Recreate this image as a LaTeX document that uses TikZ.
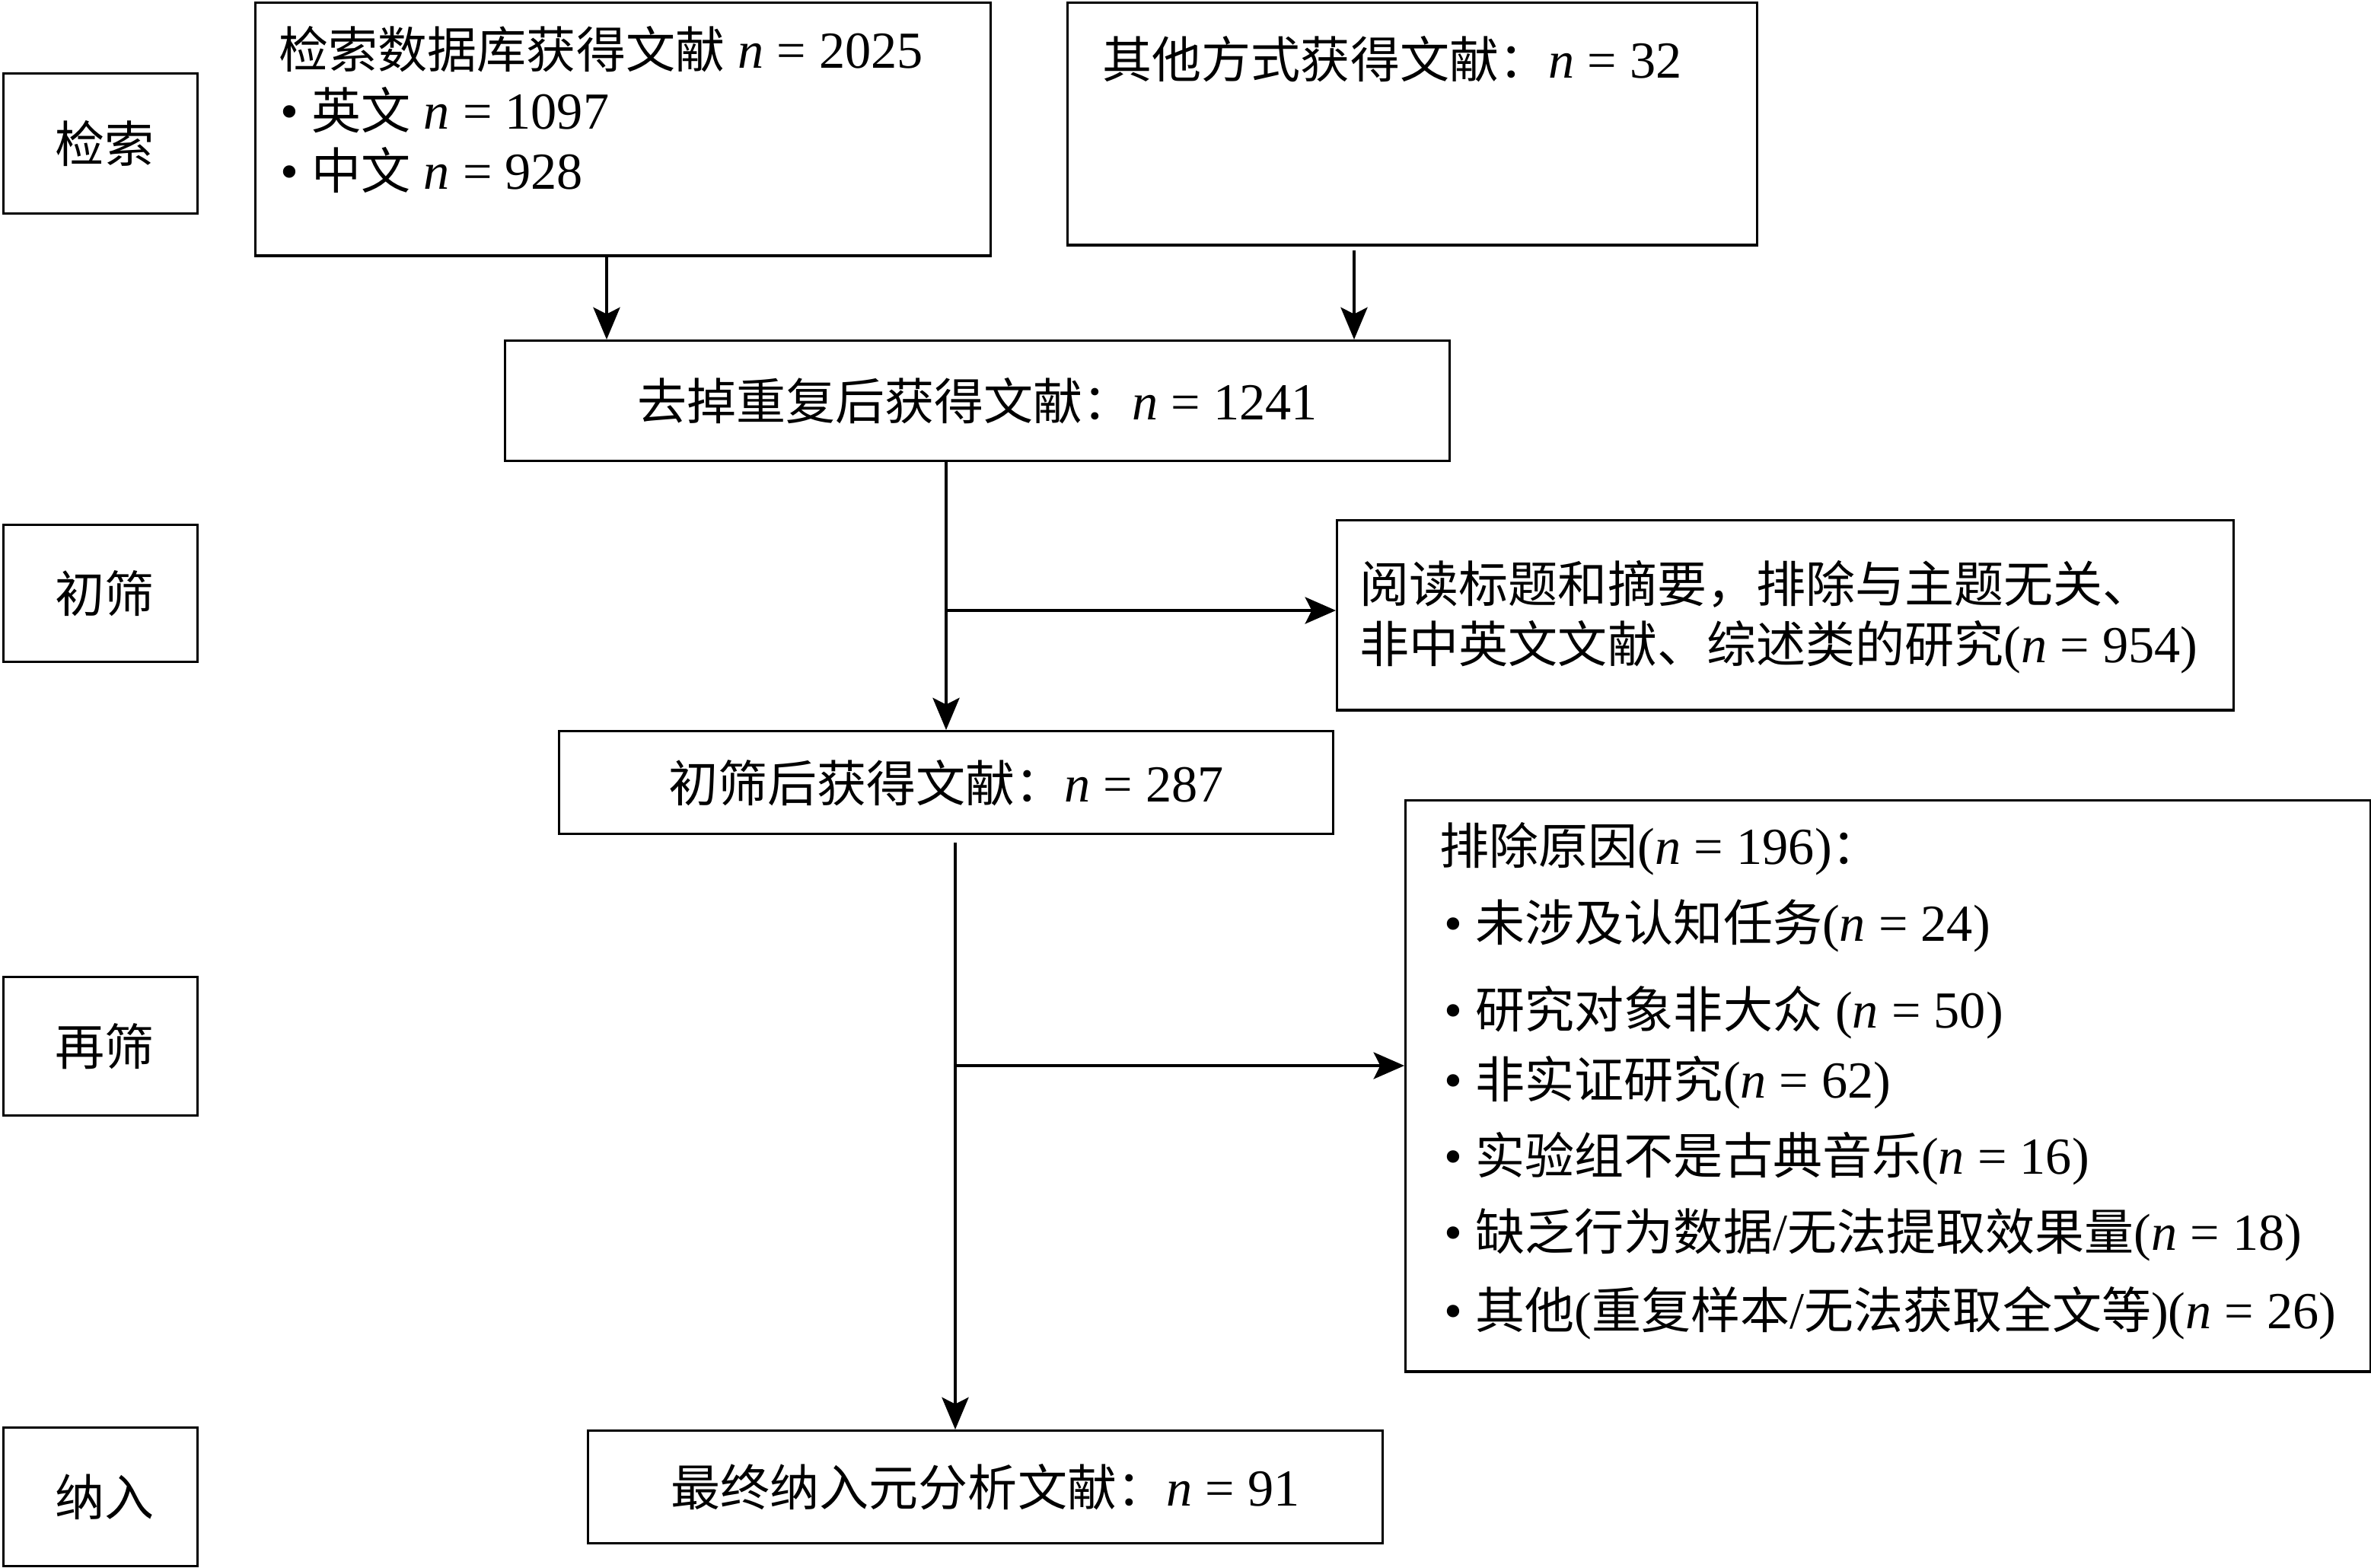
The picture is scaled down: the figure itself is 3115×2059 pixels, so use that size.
\documentclass[tikz,border=0pt]{standalone}
\usepackage{fontspec}
\setmainfont{Liberation Serif}[Scale=1.05]
\newfontfamily\cjk{Noto Sans CJK SC}
\newcommand{\zh}[1]{{\cjk #1}}
\newcommand{\nv}{\textit{n}}
\usetikzlibrary{arrows.meta}
\begin{document}
\begin{tikzpicture}[x=0.01cm,y=-0.01cm,
  every node/.append style={font=\fontsize{18.5}{22.6}\selectfont},
  box/.style={draw, line width=0.95pt, inner sep=0pt, anchor=north west},
  lab/.style={anchor=center, inner sep=0pt},
  txt/.style={anchor=base west, inner sep=0pt},
  varr/.style={line width=1.1pt, -{Stealth[length=12pt,width=10pt,inset=2.5pt]}},
  harr/.style={line width=1pt, -{Stealth[length=11.5pt,width=10pt,inset=2.5pt]}}]
\useasboundingbox (0,0) rectangle (3115,2059);
% stage labels
\node[box, minimum width=2.55cm, minimum height=1.84cm] (L1) at (3,95) {};
\node[box, minimum width=2.55cm, minimum height=1.80cm] (L2) at (3,688) {};
\node[box, minimum width=2.55cm, minimum height=1.82cm] (L3) at (3,1282) {};
\node[box, minimum width=2.55cm, minimum height=1.82cm] (L4) at (3,1874) {};
\node[lab] (l1) at ([xshift=0.05cm]L1.center) {\zh{检索}};
\node[lab] (l2) at ([xshift=0.05cm]L2.center) {\zh{初筛}};
\node[lab] (l3) at ([xshift=0.05cm]L3.center) {\zh{再筛}};
\node[lab] (l4) at ([xshift=0.05cm]L4.center) {\zh{纳入}};
% main boxes
\node[box, minimum width=9.65cm, minimum height=3.32cm] (A) at (334,2) {};
\node[box, minimum width=9.05cm, minimum height=3.18cm] (B) at (1401,2) {};
\node[box, minimum width=12.40cm, minimum height=1.58cm] (C) at (662,446) {\zh{去掉重复后获得文献：}\nv{} = 1241};
\node[box, minimum width=11.77cm, minimum height=2.49cm] (D) at (1755,682) {};
\node[box, minimum width=10.16cm, minimum height=1.35cm] (E) at (733,959) {\zh{初筛后获得文献：}\nv{} = 287};
\node[box, minimum width=12.67cm, minimum height=7.50cm] (F) at (1845,1050) {};
\node[box, minimum width=10.43cm, minimum height=1.48cm] (G) at (771,1878) {\zh{最终纳入元分析文献：}\nv{} = 91};
% texts
\node[txt] (ta1) at (366,89) {\zh{检索数据库获得文献} \nv{} = 2025};
\node[txt] (ta2) at (368,169) {• \zh{英文} \nv{} = 1097};
\node[txt] (ta3) at (368,248) {• \zh{中文} \nv{} = 928};
\node[txt] (tb) at (1448,102) {\zh{其他方式获得文献：}\nv{} = 32};
\node[txt] (td1) at (1786,791) {\zh{阅读标题和摘要，排除与主题无关、}};
\node[txt] (td2) at (1786,870) {\zh{非中英文文献、综述类的研究}(\nv{} = 954)};
\node[txt] (tf0) at (1891,1135) {\zh{排除原因}(\nv{} = 196)\zh{：}};
\node[txt] (tf1) at (1897,1236) {• \zh{未涉及认知任务}(\nv{} = 24)};
\node[txt] (tf2) at (1897,1350) {• \zh{研究对象非大众} (\nv{} = 50)};
\node[txt] (tf3) at (1897,1442) {• \zh{非实证研究}(\nv{} = 62)};
\node[txt] (tf4) at (1897,1542) {• \zh{实验组不是古典音乐}(\nv{} = 16)};
\node[txt] (tf5) at (1897,1642) {• \zh{缺乏行为数据}/\zh{无法提取效果量}(\nv{} = 18)};
\node[txt] (tf6) at (1897,1745) {• \zh{其他}(\zh{重复样本}/\zh{无法获取全文等})(\nv{} = 26)};
% connectors
\coordinate (xa) at (797,0);
\coordinate (xb) at (1779,0);
\coordinate (xc) at (1243,0);
\coordinate (xe) at (1255,0);
\coordinate (b1) at (1243,802);
\coordinate (b2) at (1255,1400);
\draw[varr] (A.south -| xa) -- (C.north -| xa);
\draw[varr, shorten <=0.05cm] (B.south -| xb) -- (C.north -| xb);
\draw[varr] (C.south -| xc) -- (E.north -| xc);
\draw[harr] (b1) -- (D.west |- b1);
\draw[varr, shorten <=0.1cm] (E.south -| xe) -- (G.north -| xe);
\draw[harr] (b2) -- (F.west |- b2);
\end{tikzpicture}
\end{document}
